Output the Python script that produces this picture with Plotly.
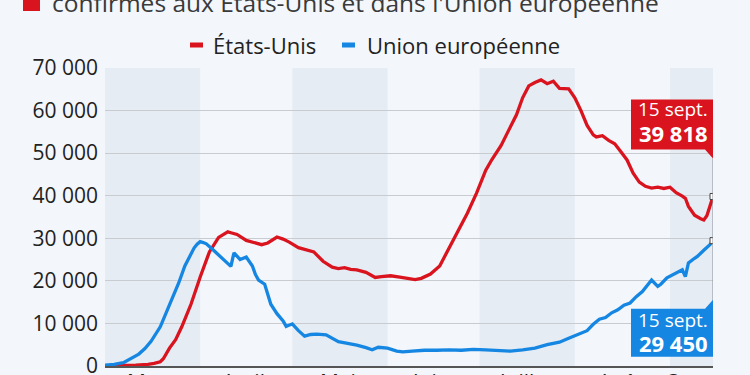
import plotly.graph_objects as go
import datetime as dt

# ---------------- data ----------------
START = dt.date(2020, 3, 1)

us_days = [0, 5, 10, 14, 16, 18, 19, 21, 23, 25, 28, 31, 34, 37, 40, 41, 43, 46, 49, 51, 53,
           56, 58, 60, 63, 66, 68, 71, 74, 76, 78, 80, 82, 85, 88, 90, 93, 96, 99, 101, 103,
           106, 109, 110, 113, 116, 118, 121, 124, 126, 129, 131, 134, 136, 138, 140, 142,
           144, 146, 148, 151, 153, 155, 157, 159, 160, 162, 164, 166, 168, 170, 172, 174,
           176, 178, 180, 182, 184, 186, 188, 189, 190, 192, 194, 195, 196, 197, 198]
us_vals = [10, 50, 200, 400, 600, 1000, 1700, 4200, 6200, 9200, 14500, 20900, 26800, 30200,
           31500, 31300, 30900, 29500, 28800, 28500, 28900, 30300, 29800, 29100, 27800, 27300,
           26800, 24600, 23200, 22900, 23100, 22700, 22600, 22000, 20800, 21000, 21200, 20900,
           20500, 20300, 20600, 21600, 23500, 24900, 29000, 33300, 35900, 40600, 46000, 48500,
           51800, 54700, 59000, 63000, 65800, 66600, 67200, 66300, 66900, 65200, 65100, 63000,
           60000, 56500, 54300, 53800, 54100, 53000, 52200, 50300, 48400, 45300, 43200, 42200,
           41800, 42000, 41700, 42000, 40700, 39900, 39400, 37500, 35400, 34600, 34300, 35300,
           37400, 39818]

eu_days = [0, 3, 6, 9, 11, 13, 15, 18, 21, 24, 26, 28, 29, 30, 31, 32, 33, 35, 37, 39, 41, 42,
           43, 44, 46, 48, 49, 50, 52, 54, 56, 58, 59, 61, 63, 65, 67, 69, 72, 74, 76, 79, 82,
           85, 87, 89, 92, 95, 97, 100, 104, 108, 112, 116, 120, 124, 128, 132, 136, 140, 144,
           148, 151, 154, 157, 159, 161, 163, 165, 167, 169, 171, 173, 175, 177, 178, 180, 181,
           183, 185, 187, 188, 189, 190, 192, 193, 195, 197, 198]
eu_vals = [200, 400, 800, 1900, 2800, 4100, 5800, 9200, 14300, 19500, 23500, 26500, 27700,
           28600, 29200, 29000, 28700, 27400, 26000, 24700, 23400, 26600, 25900, 25000, 25600,
           23500, 21500, 20200, 19200, 14500, 12300, 10600, 9300, 9900, 8300, 7000, 7400, 7500,
           7300, 6400, 5700, 5300, 4900, 4300, 3800, 4400, 4200, 3500, 3300, 3500, 3700, 3700,
           3800, 3700, 3900, 3800, 3600, 3500, 3800, 4200, 5000, 5600, 6500, 7300, 8300, 9800,
           11000, 11400, 12500, 13200, 14300, 14800, 16300, 17500, 19200, 20200, 18700, 19200,
           20700, 21500, 22300, 22600, 21000, 24200, 25300, 25800, 27200, 28500, 29450]

month_names = ["Mars", "Avril", "Mai", "Juin", "Juillet", "Août", "Sept."]
month_starts = ["2020-03-01", "2020-04-01", "2020-05-01", "2020-06-01", "2020-07-01",
                "2020-08-01", "2020-09-01", "2020-10-01"]
month_mids = ["2020-03-16", "2020-04-15", "2020-05-16", "2020-06-15", "2020-07-16",
              "2020-08-16", "2020-09-08"]
y_ticks = [0, 10000, 20000, 30000, 40000, 50000, 60000, 70000]
series_names = ["États-Unis", "Union européenne"]
title_line = "confirmés aux États-Unis et dans l'Union européenne"
end_label = "15 sept."

# ---------------- style ----------------
RED = "#d9141f"
BLUE = "#1587e2"
BG = "#f3f6fa"
BAND = "#e6ecf4"
GRID = "#c8ccd1"
FONT = "Open Sans"
PL, PR, PT, PB = 105, 713, 68, 366  # plot area in pixels
PW, PH = PR - PL, PB - PT


def px_x(p):
    return (p - PL) / PW


def px_y(p):
    return (PB - p) / PH


def to_dates(days):
    return [(START + dt.timedelta(days=d)).isoformat() for d in days]


def fmt(v):
    return f"{int(round(v)):,}".replace(",", " ")


us_x = to_dates(us_days)
eu_x = to_dates(eu_days)

fig = go.Figure()
fig.add_trace(go.Scatter(x=us_x, y=us_vals, mode="lines", line=dict(color=RED, width=3.3),
                         name=series_names[0], showlegend=False))
fig.add_trace(go.Scatter(x=eu_x, y=eu_vals, mode="lines", line=dict(color=BLUE, width=3.3),
                         name=series_names[1], showlegend=False))

# month bands (alternate)
shapes = []
for i in range(0, len(month_starts) - 1, 2):
    shapes.append(dict(type="rect", xref="x", yref="paper", x0=month_starts[i],
                       x1=month_starts[i + 1], y0=0, y1=1, fillcolor=BAND,
                       line=dict(width=0), layer="below"))

last_x = us_x[-1]
us_last = us_vals[-1]
eu_last = eu_vals[-1]

# connector line between the two label boxes
shapes.append(dict(type="line", xref="x", yref="y", xsizemode="pixel", ysizemode="pixel",
                   xanchor=last_x, yanchor=us_last, x0=0, x1=0, y0=38, y1=-104,
                   line=dict(color="#8a8f96", width=1), layer="above"))
# red label box with tail
shapes.append(dict(type="path", xref="x", yref="y", xsizemode="pixel", ysizemode="pixel",
                   xanchor=last_x, yanchor=us_last,
                   path="M -82 47 L -82 97 L 0 97 L 0 38 L -8 47 Z",
                   fillcolor=RED, line=dict(width=0), layer="above"))
# blue label box with tail
shapes.append(dict(type="path", xref="x", yref="y", xsizemode="pixel", ysizemode="pixel",
                   xanchor=last_x, yanchor=eu_last,
                   path="M -82 -68 L -82 -116 L 0 -116 L 0 -59 L -8 -68 Z",
                   fillcolor=BLUE, line=dict(width=0), layer="above"))
# title square
shapes.append(dict(type="rect", xref="paper", yref="paper",
                   x0=px_x(23), x1=px_x(40), y0=px_y(11), y1=px_y(-8),
                   fillcolor=RED, line=dict(width=0)))
# legend swatches
legend_items = [(190, 213, RED, series_names[0]), (342, 367, BLUE, series_names[1])]
for sx, tx, col, name in legend_items:
    shapes.append(dict(type="rect", xref="paper", yref="paper",
                       x0=px_x(sx), x1=px_x(sx + 13), y0=px_y(47.5), y1=px_y(42.5),
                       fillcolor=col, line=dict(width=0)))

# end markers
fig.add_trace(go.Scatter(x=[last_x, last_x], y=[us_last, eu_last], mode="markers",
                         marker=dict(symbol="square", size=6, color="white",
                                     line=dict(color="#444", width=1)),
                         showlegend=False))

annotations = [
    dict(x=last_x, y=us_last, xref="x", yref="y", xanchor="center", yanchor="middle",
         xshift=-40, yshift=87, text=end_label, showarrow=False,
         font=dict(family=FONT, size=19, color="white")),
    dict(x=last_x, y=us_last, xref="x", yref="y", xanchor="center", yanchor="middle",
         xshift=-40, yshift=63, text="<b>" + fmt(us_last) + "</b>", showarrow=False,
         font=dict(family=FONT, size=22, color="white")),
    dict(x=last_x, y=eu_last, xref="x", yref="y", xanchor="center", yanchor="middle",
         xshift=-40, yshift=-79, text=end_label, showarrow=False,
         font=dict(family=FONT, size=19, color="white")),
    dict(x=last_x, y=eu_last, xref="x", yref="y", xanchor="center", yanchor="middle",
         xshift=-40, yshift=-102, text="<b>" + fmt(eu_last) + "</b>", showarrow=False,
         font=dict(family=FONT, size=22, color="white")),
    dict(x=px_x(50), y=px_y(2), xref="paper", yref="paper",
         xanchor="left", yanchor="middle", text=title_line, showarrow=False,
         font=dict(family=FONT, size=24.5, color="#3a3a3a")),
]
for sx, tx, col, name in legend_items:
    annotations.append(dict(x=px_x(tx - 2), y=px_y(45), xref="paper", yref="paper",
                            xanchor="left", yanchor="middle", text=name, showarrow=False,
                            font=dict(family=FONT, size=22, color="#222")))
# month labels below the axis (partly cut by the frame, as in the reference)
for mid, name in zip(month_mids, month_names):
    annotations.append(dict(x=mid, y=0, xref="x", yref="paper", xanchor="center",
                            yanchor="top", yshift=-1, text=name, showarrow=False,
                            borderpad=0, font=dict(family=FONT, size=21, color="#222")))

fig.update_layout(
    width=750, height=375,
    margin=dict(l=PL, r=750 - PR, t=PT, b=375 - PB),
    paper_bgcolor=BG, plot_bgcolor=BG,
    font=dict(family=FONT, size=21, color="#222"),
    shapes=shapes, annotations=annotations,
    showlegend=False,
    xaxis=dict(type="date", range=[month_starts[0], us_x[-1]], showgrid=False,
               showticklabels=False, ticks="",
               showline=True, linecolor="#555", linewidth=1.5, zeroline=False,
               automargin=False),
    yaxis=dict(range=[0, 70000], tickvals=y_ticks, ticktext=[fmt(v) for v in y_ticks],
               showgrid=True, gridcolor=GRID, gridwidth=1, zeroline=False,
               showline=False, ticks="", ticklabelstandoff=6, automargin=False,
               ticklabeloverflow="allow",
               tickfont=dict(size=21, color="#222")),
)

fig.write_html("out.html")
